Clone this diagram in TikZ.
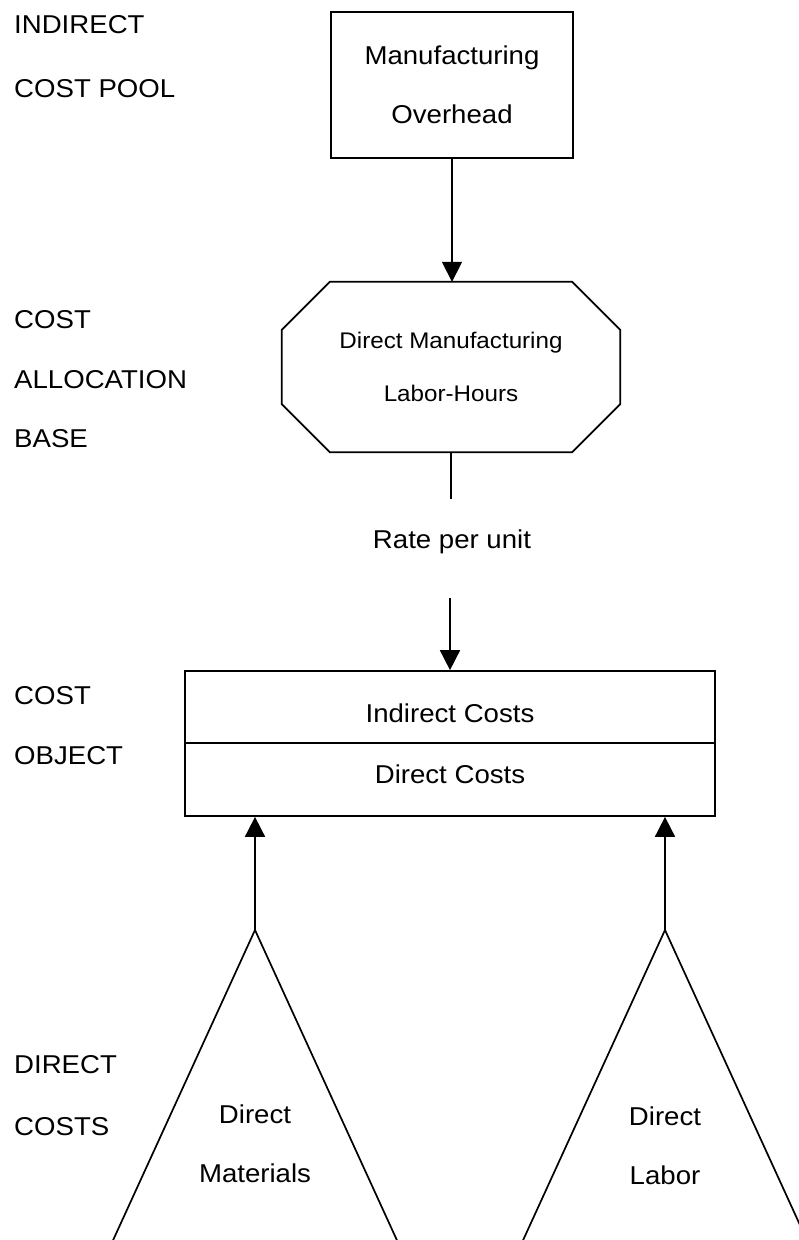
\documentclass[tikz,border=0pt]{standalone}
\usepackage{fontspec}
\setmainfont{Liberation Sans}[FakeStretch=1.07]
\usetikzlibrary{arrows.meta}
\newcommand\mainsize{\fontsize{25.8}{59}\selectfont}
\newcommand\octsize{\fontsize{22.6}{53}\selectfont}
\tikzset{
  lbl/.style={anchor=base west, font=\mainsize, inner sep=0pt},
  boxnode/.style={draw, line width=1.7pt, inner sep=0pt},
  wire/.style={line width=1.7pt},
  arr/.style={wire, -{Triangle[width=20pt,length=20pt]}},
  txt/.style={font=\mainsize, inner sep=0pt, align=center},
}
\begin{document}
\begin{tikzpicture}[x=1pt,y=-1pt]
\useasboundingbox (0,0) rectangle (799,1240);

% level captions down the left margin
\node[lbl] (c1) at (14,33)   {INDIRECT};
\node[lbl] (c2) at (14,97)   {COST POOL};
\node[lbl] (c3) at (14,328)  {COST};
\node[lbl] (c4) at (14,388)  {ALLOCATION};
\node[lbl] (c5) at (14,447)  {BASE};
\node[lbl] (c6) at (14,704)  {COST};
\node[lbl] (c7) at (14,764)  {OBJECT};
\node[lbl] (c8) at (14,1073) {DIRECT};
\node[lbl] (c9) at (14,1135) {COSTS};

% indirect cost pool
\node[boxnode, txt, minimum width=242pt, minimum height=146pt] (pool) at (452,85)
  {Manufacturing\\Overhead};

% allocation base: chamfered box
\node[inner sep=0pt, align=center, font=\octsize,
      minimum width=338pt, minimum height=170pt] (base) at (451,367)
  {Direct Manufacturing\\Labor-Hours};
\draw[wire]
  ([xshift=48pt]base.north west) -- ([xshift=-48pt]base.north east)
  -- ([yshift=-48pt]base.north east) -- ([yshift=48pt]base.south east)
  -- ([xshift=-48pt]base.south east) -- ([xshift=48pt]base.south west)
  -- ([yshift=48pt]base.south west) -- ([yshift=-48pt]base.north west) -- cycle;

\draw[arr] (pool.south) -- (pool.south |- base.north);

% rate label between the base and the cost object
\node[font=\mainsize, anchor=base, inner sep=0pt] (rate) at (452,548) {Rate per unit};
\coordinate (r1) at (451,499);
\coordinate (r2) at (450,598);

% cost object, two rows
\node[boxnode, font=\mainsize, minimum width=530pt, minimum height=72pt,
      text height=30pt, text depth=0pt] (ind) at (450,707) {Indirect Costs};
\node[boxnode, font=\mainsize, minimum width=530pt, minimum height=73pt,
      text height=19pt, text depth=12pt] (dir) at (450,779.5) {Direct Costs};

\draw[wire] (base.south) -- (base.south |- r1);
\draw[arr] (r2) -- (r2 |- ind.north);

% direct cost triangles
\coordinate (dm) at (255,930);
\coordinate (dl) at (665,930);
\begin{scope}
  \clip (0,0) rectangle (799,1240);
  \draw[wire, line join=miter] (104,1260) -- (dm) -- (406,1260);
  \draw[wire, line join=miter] (514,1260) -- (dl) -- (816,1260);
\end{scope}
\node[txt] (mat) at (255,1144) {Direct\\Materials};
\node[txt] (lab) at (665,1146) {Direct\\Labor};

\draw[arr] (dm) -- (dm |- dir.south);
\draw[arr] (dl) -- (dl |- dir.south);
\end{tikzpicture}
\end{document}
